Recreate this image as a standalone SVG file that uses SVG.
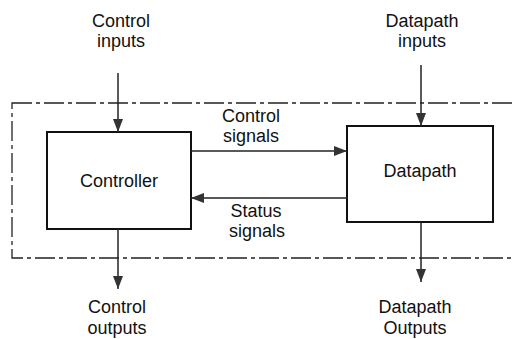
<svg xmlns="http://www.w3.org/2000/svg" width="513" height="339" viewBox="0 0 513 339">
  <defs>
    <style>
      .lbl { font-family: "Liberation Sans", Arial, sans-serif; font-size: 18px; fill: #111; text-anchor: middle; }
      .box { fill: #fff; stroke: #111; stroke-width: 2; }
      .wire { stroke: #222; stroke-width: 1.5; fill: none; }
      .frame { fill: none; stroke: #222; stroke-width: 1.3; stroke-dasharray: 20 4 4 4; }
    </style>
    <marker id="arr" viewBox="0 0 13 10" refX="13" refY="5" markerWidth="13" markerHeight="10" markerUnits="userSpaceOnUse" orient="auto">
      <path d="M0,0 L13,5 L0,10 z" fill="#333"/>
    </marker>
  </defs>
  <rect width="513" height="339" fill="#fff"/>
  <rect class="frame" x="12" y="103" width="520" height="155"/>

  <g id="controller">
    <rect class="box" x="47" y="132" width="144" height="97"/>
    <text class="lbl" x="119" y="187">Controller</text>
  </g>
  <g id="datapath">
    <rect class="box" x="347" y="126" width="146" height="96"/>
    <text class="lbl" x="420" y="177">Datapath</text>
  </g>
  <g id="control-inputs">
    <text class="lbl" x="121" y="27">Control</text>
    <text class="lbl" x="121" y="47">inputs</text>
  </g>
  <g id="datapath-inputs">
    <text class="lbl" x="422" y="27">Datapath</text>
    <text class="lbl" x="422" y="47">inputs</text>
  </g>
  <g id="control-outputs">
    <text class="lbl" x="117" y="313">Control</text>
    <text class="lbl" x="117" y="334">outputs</text>
  </g>
  <g id="datapath-outputs">
    <text class="lbl" x="415" y="313">Datapath</text>
    <text class="lbl" x="415" y="334">Outputs</text>
  </g>

  <g id="connectors">
    <line class="wire" x1="118" y1="73" x2="118" y2="132" marker-end="url(#arr)"/>
    <line class="wire" x1="421" y1="65" x2="421" y2="126" marker-end="url(#arr)"/>
    <line class="wire" x1="191" y1="151" x2="347" y2="151" marker-end="url(#arr)"/>
    <line class="wire" x1="347" y1="198" x2="191" y2="198" marker-end="url(#arr)"/>
    <line class="wire" x1="118" y1="229" x2="118" y2="289" marker-end="url(#arr)"/>
    <line class="wire" x1="421" y1="222" x2="421" y2="282" marker-end="url(#arr)"/>
    <text class="lbl" x="251" y="122">Control</text>
    <text class="lbl" x="251" y="142">signals</text>
    <text class="lbl" x="256" y="217">Status</text>
    <text class="lbl" x="257" y="237">signals</text>
  </g>
</svg>
